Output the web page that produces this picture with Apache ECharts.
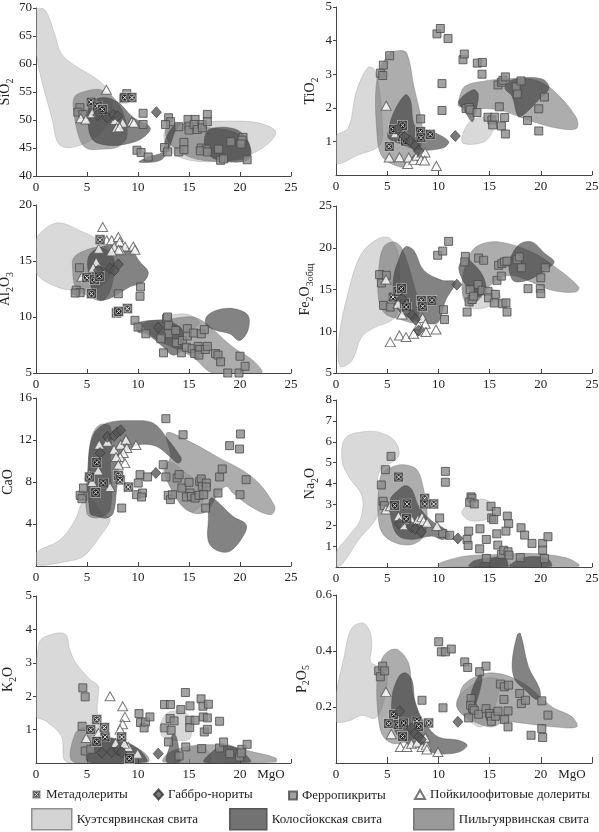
<!DOCTYPE html>
<html>
<head>
<meta charset="utf-8">
<script src="https://cdn.jsdelivr.net/npm/echarts@6/dist/echarts.min.js"></script>
<style>html,body{margin:0;padding:0;background:#fff}#chart{width:599px;height:832px}</style>
</head>
<body>
<div id="chart"></div>
<script>
// ---- data: [MgO, oxide] ----
// SiO2
var siMeta = [[5.4,53.2],[6.0,52.5],[6.5,51.9],[8.7,54.0],[9.4,54.0]];
var siGab = [[6.05,50.9],[7.0,50.4],[7.6,50.9],[8.0,50.7],[11.8,51.4]];
var siPoik = [[6.9,55.4],[4.4,50.3],[4.9,50.1],[5.5,51.2],[7.75,50.0],[7.9,48.6],[8.5,49.5],[8.2,48.7],[9.4,49.7],[9.6,49.5]];
var siFerro = [[4.3,52.2],[4.1,51.4],[4.6,51.0],[8.9,54.7],[8.6,53.8],[10.5,51.2],[10.5,49.2],[9.9,44.6],[10.3,44.2],[11.0,43.4],[13.0,50.4],[13.2,49.7],[12.7,49.2],[14.0,48.8],[12.6,45.1],[12.9,44.3],[14.0,44.3],[14.5,46.0],[14.5,44.7],[14.9,50.1],[15.0,48.9],[15.0,48.2],[15.6,50.1],[15.5,49.2],[15.8,48.3],[16.3,49.2],[16.3,48.6],[16.8,51.0],[16.8,49.7],[16.2,45.0],[16.7,44.8],[16.1,44.5],[16.8,44.3],[17.9,44.8],[18.1,42.8],[18.4,43.05],[19.1,46.1],[20.3,46.9],[20.2,46.4],[20.1,45.7],[20.7,42.9]];
var siKuet = [
  [[0,70],[0.9,69.6],[1.8,65.5],[2.5,61.8],[4,59.5],[5.8,57.5],[7,55.5],[7.5,53],[6.5,48],[4,45.3],[2.3,45.6],[1.6,50],[0,62]],
  [[12.8,48.4],[15,49.4],[19,49.8],[22,49.4],[23.5,47.8],[22.2,45],[19.5,43],[16,42.6],[13.6,43.8],[12.6,46.3]]
];
var siPilg = [
  [[3.8,54.2],[5,55.2],[6.3,55.4],[7.6,54],[8.6,51],[8.9,47],[8,45.2],[6.5,44.8],[5,44.9],[4.3,46.5],[3.7,51.5]],
  [[12.9,49],[14.6,49.3],[16.5,48.7],[19,48.1],[20.6,46.5],[21,43.6],[19,42.7],[16,42.9],[14,44.4],[12.8,46.8]]
];
var siKolos = [
  [[5.3,52.9],[6.5,54],[8,53.2],[9.5,50.5],[11.2,48.6],[10.3,46.6],[8.5,45.6],[7,45.5],[5.6,46.4],[5.1,49.3]],
  [[10.1,42.5],[12.2,42.8],[13.0,44.8],[13.6,47.8],[14.1,49.4],[13.4,48.8],[12.7,46.6],[12.4,44.3],[11,43.4]],
  [[17,48.3],[19.5,48.4],[20.8,46.2],[20.9,43.1],[19,42.5],[17.2,43.4],[16.5,46]]
];
// TiO2
var tiMeta = [[5.2,0.85],[5.6,1.36],[6.5,1.48],[6.45,1.14],[6.8,1.01],[8.25,1.29],[8.3,1.11],[9.2,1.21]];
var tiGab = [[6.05,1.36],[6.7,1.14],[7.25,1.01],[7.7,0.87],[8.05,0.72],[11.65,1.16]];
var tiPoik = [[4.9,2.06],[5.2,0.52],[6.2,0.53],[7.0,0.33],[7.1,0.52],[7.6,0.45],[7.9,0.57],[8.4,0.67],[8.7,0.67],[8.3,0.45],[8.65,0.43],[9.8,0.27],[5.8,1.24]];
var tiFerro = [[4.33,3.03],[4.56,2.96],[4.62,3.27],[5.24,3.55],[8.27,1.67],[9.86,4.2],[10.19,4.36],[10.94,4.06],[10.35,2.72],[10.35,1.92],[12.4,3.43],[12.53,3.6],[13.8,3.33],[14.3,3.35],[14.26,3.0],[12.7,1.98],[13.0,2.01],[13.1,1.94],[13.77,1.86],[14.84,1.72],[15.23,1.64],[15.3,1.49],[15.5,1.72],[16.15,1.46],[16.54,1.22],[16.47,1.71],[15.95,2.03],[15.82,2.68],[16.15,2.76],[16.3,2.82],[16.54,2.92],[17.6,2.62],[17.7,2.41],[18.07,2.8],[18.7,1.62],[19.8,1.97],[19.8,1.31],[20.35,2.32]];
var tiKuet = [
  [[0,0.35],[0,1.15],[1.2,1.4],[2.0,2.5],[3.1,3.2],[3.7,3.15],[4.2,2.6],[4.5,1.6],[4.3,0.9],[2.2,0.6]],
  [[12.3,1.14],[13.3,1.64],[15.6,1.66],[15.2,1.24],[14.4,0.98],[12.5,0.93]]
];
var tiPilg = [
  [[4.0,2.84],[5.1,3.58],[6.1,3.7],[6.9,3.63],[7.6,2.64],[8.4,1.44],[8.1,0.65],[7.1,0.28],[6.1,0.25],[4.5,0.55],[4.0,1.24]],
  [[12.0,2.24],[12.6,2.64],[14.6,2.8],[16.5,2.86],[19.1,2.85],[21.1,2.55],[23.4,1.74],[23.5,1.39],[21.7,1.39],[19.1,1.6],[15.9,1.94],[13.3,1.99],[12.0,2.05]]
];
var tiKolos = [
  [[5.14,1.34],[5.6,1.84],[6.77,2.39],[7.26,2.24],[7.75,1.44],[9.4,1.29],[11.0,1.0],[10.4,0.8],[8.07,0.75],[6.1,0.95],[5.1,1.1]],
  [[12.0,2.19],[13.4,2.54],[13.9,2.39],[13.6,1.84],[13.3,1.59],[12.6,1.89]],
  [[16.5,2.59],[17.3,2.84],[20.1,2.86],[20.8,2.59],[19.8,2.24],[18.5,1.84],[17.8,1.74],[17.2,2.34]]
];
// Al2O3
var alMeta = [[6.28,16.9],[4.98,13.5],[5.73,13.33],[6.2,13.63],[5.44,12.08],[7.9,10.36],[8.95,10.75],[8.1,10.5]];
var alGab = [[6.12,14.17],[7.26,14.32],[7.68,14.17],[8.07,14.7],[11.98,9.05]];
var alPoik = [[6.54,18.04],[6.15,16.1],[6.93,16.85],[7.42,16.85],[8.07,17.14],[8.2,16.7],[7.68,16.25],[8.72,16.3],[8.3,15.95],[9.54,16.3],[9.7,16.0],[5.9,14.9],[4.5,13.6],[8.1,16.0],[7.4,15.86],[5.6,14.4]];
var alFerro = [[4.26,14.4],[3.94,12.4],[4.33,12.17],[3.84,12.14],[8.07,12.08],[10.25,12.68],[10.2,11.85],[9.7,9.7],[10.0,9.1],[10.77,8.5],[12.8,9.85],[12.9,10.0],[13.0,9.26],[12.97,8.5],[12.3,8.2],[12.24,8.06],[12.5,6.8],[13.7,8.8],[13.77,7.7],[14.26,6.8],[14.36,7.9],[14.84,8.96],[14.84,8.3],[15.46,8.57],[14.75,7.3],[15.3,7.17],[15.56,6.73],[15.9,7.38],[16.05,7.1],[15.98,6.6],[16.2,8.5],[16.5,8.87],[16.6,7.1],[16.8,7.38],[17.6,6.73],[17.85,6.6],[18.1,6.0],[18.8,5.0],[20.0,6.5],[19.9,5.0],[20.5,5.6]];
var alKuet = [
  [[0,16.85],[1.07,18.0],[2.38,18.4],[4.33,17.7],[6.3,16.8],[7.3,15.9],[7.6,14.4],[6.3,12.7],[4,12.4],[2,12.7],[0,14.0]],
  [[12.5,9.8],[13.5,10.2],[15,10.2],[16,9.5],[15,8.8],[13.5,9.0]]
];
var alPilg = [
  [[3.7,15.3],[5,16],[6.3,16.2],[7.5,15.5],[7.6,13.5],[6.6,11.5],[4.65,12.1],[3.84,12.7],[3.6,14.2]],
  [[10.5,9.4],[13.4,9.85],[15.4,10.0],[16.7,9.4],[19.3,7.3],[21.3,6.1],[22.1,5.0],[17.35,5.0],[15.4,6.4],[13.4,7.3],[11.5,8.2]]
];
var alKolos = [
  [[5.14,15.35],[5.96,16.1],[7.58,16.4],[9.2,16.1],[10.2,14.9],[11.0,14.0],[10.5,13.1],[9.2,12.7],[7.58,11.8],[6.28,11.5],[5.63,12.1],[5.14,13.9]],
  [[9.86,9.4],[11.8,9.7],[13.4,9.46],[14.36,8.8],[14.26,7.0],[13.4,6.6],[12.5,7.3],[10.84,8.5],[10.0,8.66]],
  [[16.7,10.0],[17.7,10.6],[19.3,10.75],[20.77,10.15],[20.77,8.8],[19.95,7.9],[19.0,8.5],[17.7,8.8],[16.7,9.26]]
];
// Fe2O3 total
var feMeta = [[5.57,14.1],[6.05,14.78],[6.38,15.1],[6.7,13.3],[6.87,12.9],[8.33,13.7],[8.46,13.0],[9.37,13.7]];
var feGab = [[6.45,13.9],[7.42,11.9],[7.75,11.4],[8.07,10.1],[11.8,15.58]];
var fePoik = [[4.88,16.2],[6.05,13.3],[6.45,12.0],[5.3,8.7],[6.19,9.5],[6.84,9.3],[7.58,9.7],[8.07,10.7],[8.46,11.6],[8.72,10.9],[8.4,10.1],[8.78,9.9],[9.77,10.2]];
var feFerro = [[4.26,16.78],[4.43,15.78],[4.92,16.7],[4.65,13.1],[5.3,12.9],[9.93,19.1],[10.42,19.6],[11.0,20.77],[10.5,12.58],[10.6,11.4],[12.63,18.97],[12.57,18.3],[13.93,18.77],[14.42,18.5],[13.87,15.6],[13.1,14.98],[13.0,13.5],[13.3,13.8],[12.8,12.3],[13.44,14.2],[14.26,14.9],[14.84,14.78],[14.9,14.0],[15.56,14.42],[15.46,13.38],[15.72,16.1],[15.88,17.9],[16.2,18.1],[16.44,18.3],[16.7,18.4],[16.15,16.6],[16.28,13.3],[16.6,13.4],[16.7,12.3],[17.68,18.57],[17.9,18.9],[18.1,17.6],[18.75,15.1],[19.95,15.1],[20.0,14.5],[20.0,16.4],[20.44,17.6]];
var feKuet = [
  [[0.42,5.8],[0.26,8.9],[1.24,14.9],[2.5,19.3],[4.17,21.1],[5.3,21.1],[6.1,18.9],[5.96,12.1],[5.14,11.1],[3.84,10.5],[2.5,9.3],[1.56,6.5]],
  [[12.4,14.0],[12.6,15.5],[14,15.3],[15.8,14.8],[16,13.8],[14.5,12.8],[13.2,12.8]]
];
var fePilg = [
  [[4.17,17.3],[4.65,20.1],[5.63,20.7],[6.45,19.9],[7.5,16],[8.07,12.9],[7.75,11.1],[6.1,11.5],[4.8,12.1],[4.17,13.7]],
  [[12.3,15.3],[12.95,18.9],[13.93,20.3],[15.9,20.7],[19.1,19.5],[21.4,17.7],[23.7,15.3],[23.4,14.7],[21.1,14.9],[19.1,15.9],[17.2,16.7],[15.9,16.3],[14.9,15.3],[13.9,13.7],[12.95,13.1]]
];
var feKolos = [
  [[5.63,16.5],[6.1,18.5],[6.77,20.1],[7.58,19.7],[8.56,17.3],[10.35,16.1],[11.65,15.9],[10.7,13.7],[10.0,11.1],[9.05,10.9],[7.42,11.5],[6.1,12.5],[5.63,14.1]],
  [[12.0,17.7],[12.6,18.7],[13.4,18.1],[14.4,16.5],[14.6,14.9],[13.9,14.1],[12.95,15.1],[12.3,16.3]],
  [[16.9,18.1],[17.8,20.3],[19.1,20.7],[20.4,19.3],[21.3,18.3],[20.44,17.3],[19.1,16.3],[17.8,15.9],[17.2,16.2]]
];
// CaO
var caMeta = [[5.96,9.87],[5.24,8.48],[6.6,7.9],[5.86,7.0],[8.07,8.63],[8.24,8.2],[9.05,7.52]];
var caGab = [[6.28,10.76],[7.0,12.3],[7.65,12.4],[7.98,12.73],[8.3,12.92],[11.75,8.86]];
var caPoik = [[6.2,11.56],[7.0,11.84],[7.65,11.08],[8.3,11.56],[8.82,12.03],[8.9,11.24],[8.56,10.76],[8.24,10.38],[8.72,9.8],[9.8,11.52],[5.24,8.7],[6.1,9.1],[7.26,7.52],[7.85,10.38],[8.07,9.65],[5.5,8.0]];
var caFerro = [[4.6,6.63],[4.33,6.73],[4.5,6.41],[4.65,7.43],[8.4,5.52],[9.86,6.79],[10.2,8.7],[10.02,7.9],[10.45,6.95],[10.35,6.57],[10.94,8.48],[12.47,9.65],[12.73,14.03],[12.73,8.48],[12.96,6.73],[13.18,6.32],[13.38,6.79],[13.83,8.38],[14.03,8.7],[14.42,12.5],[14.3,7.43],[15.0,7.97],[15.1,6.95],[14.75,6.57],[15.23,6.63],[15.6,6.47],[15.98,6.73],[16.05,8.06],[16.2,8.29],[16.3,7.59],[16.7,7.9],[16.7,7.52],[16.44,6.79],[16.63,5.52],[17.84,6.95],[18.0,8.48],[18.26,9.24],[18.98,11.46],[20.05,12.57],[19.95,11.14],[20.0,6.79],[20.6,8.22]];
var caKuet = [
  [[0,0.13],[0,1.24],[2.38,2.5],[3.84,4.4],[4.5,6.0],[5.2,6.5],[6.5,5],[7.26,4.4],[6.28,2.83],[4.65,0.92],[3.03,0.44]],
  [[12.4,9.6],[13.2,9.9],[14.5,9],[16,7.8],[16.5,6.5],[15.5,5.2],[14.5,5.5],[13.5,7],[12.6,8.8]]
];
var caPilg = [
  [[4.98,5.05],[5.1,9.5],[5.47,12.35],[6.28,13.46],[7.3,13.2],[7.3,9.8],[7.26,5.37],[5.96,4.57]],
  [[12.8,12.67],[14.75,12.0],[17.7,10.44],[21.3,8.38],[23.4,5.68],[23.05,4.9],[21.3,5.52],[19.3,6.95],[18.65,7.59],[17.7,6.63],[16.7,5.2],[15.4,5.05],[14.1,6.0],[12.96,7.9],[12.63,9.17],[13.2,10.5]]
];
var caKolos = [
  [[5.3,5.05],[5.14,9.8],[5.63,12.5],[6.93,13.6],[9.54,13.84],[11.5,13.6],[12.96,12.03],[13.93,10.76],[14.26,10.13],[13.93,9.8],[13.1,10.44],[11.8,11.4],[10.2,11.56],[8.9,10.92],[8.24,9.8],[7.9,7.27],[7.58,5.05],[6.93,4.57],[5.96,4.73]],
  [[17.0,6.3],[17.35,6.48],[19.3,4.73],[20.6,3.94],[20.3,2.83],[19.0,1.4],[17.7,1.5],[16.9,2.35],[16.9,4.4]]
];
// Na2O
var naMeta = [[6.12,4.31],[5.73,2.94],[6.93,3.02],[8.66,3.29],[8.66,3.02],[9.54,3.02],[6.87,2.31]];
var naGab = [[6.19,2.07],[7.36,1.91],[7.75,1.83],[8.33,1.69],[11.9,1.37]];
var naPoik = [[4.88,2.75],[5.3,2.91],[6.1,2.43],[7.42,2.24],[8.0,2.27],[8.4,2.4],[8.56,2.2],[8.9,2.12],[9.86,1.96],[6.6,2.0]];
var naFerro = [[5.37,5.3],[4.82,4.66],[4.43,3.93],[4.6,3.15],[4.72,2.94],[10.68,4.58],[10.68,4.06],[10.12,2.35],[10.42,1.61],[11.1,1.52],[13.18,3.36],[13.28,3.3],[13.05,3.1],[13.5,3.02],[12.96,1.72],[12.8,1.32],[12.9,1.03],[14.06,1.83],[14.03,0.87],[14.68,1.32],[14.68,0.41],[15.14,2.91],[15.2,2.35],[15.66,2.66],[15.4,2.27],[15.7,1.59],[15.8,1.05],[16.15,0.6],[16.38,0.8],[16.73,2.44],[16.86,2.08],[16.6,1.72],[16.8,0.73],[16.9,0.57],[18.07,1.88],[18.42,1.53],[18.0,0.45],[19.14,1.13],[20.18,1.13],[20.18,0.81],[20.35,0.4],[20.7,1.45]];
var naKuet = [
  [[0,0.05],[0,0.68],[1.24,1.48],[2.38,2.27],[2.54,3.39],[1.24,4.34],[0.6,5.06],[0.9,6.17],[2.86,6.49],[4.5,6.41],[5.8,6.0],[6.1,5.3],[4.17,4.5],[4.17,2.59],[2.2,1.3],[0.6,0.13]],
  [[12.3,2.67],[13.28,3.15],[14.58,3.23],[15.2,2.91],[14.9,2.35],[13.28,2.2],[12.47,2.43]],
  [[14,0.03],[14.5,0.35],[16,0.5],[17,0.2],[17,0.03]]
];
var naPilg = [
  [[4.5,4.5],[5.47,4.79],[6.6,4.9],[7.9,4.66],[8.56,3.7],[8.9,2.59],[8.56,1.48],[7.42,1.08],[5.8,1.16],[4.5,1.64],[4.1,2.59],[4.17,3.7]],
  [[10.0,0.03],[10.2,0.2],[12.6,0.52],[15.9,0.6],[19.1,0.65],[22.4,0.45],[23.7,0.13],[23.7,0.03]]
];
var naKolos = [
  [[5.3,3.23],[6.12,3.7],[6.77,3.9],[7.42,3.7],[8.07,2.91],[9.37,2.2],[10.68,1.8],[11.17,1.48],[10.35,1.32],[9.37,1.48],[7.42,1.32],[6.12,1.48],[5.47,2.12]],
  [[13,0.03],[13.5,0.3],[15,0.42],[16.5,0.45],[16.8,0.1],[16.8,0.03]],
  [[17,0.03],[18,0.4],[19.5,0.5],[20.8,0.35],[21,0.03]]
];
// K2O
var kMeta = [[5.96,1.3],[5.37,1.0],[6.7,1.06],[6.77,0.78],[5.96,0.64],[8.4,0.78],[9.15,0.13]];
var kGab = [[6.45,0.31],[7.42,0.33],[8.07,0.38],[8.4,0.32],[11.98,0.28]];
var kPoik = [[7.26,2.0],[8.5,1.7],[8.72,1.38],[8.5,1.16],[8.24,1.0],[4.92,0.75],[6.12,0.9],[9.96,0.28],[9.05,0.48],[8.66,0.58],[7.8,0.6]];
var kFerro = [[4.59,2.25],[4.82,1.98],[4.52,1.1],[4.82,0.36],[5.37,0.41],[10.1,1.48],[10.25,1.21],[10.6,1.05],[10.74,1.23],[11.17,1.38],[12.6,1.75],[13.18,1.75],[12.63,1.05],[12.99,0.63],[13.15,1.33],[13.25,0.98],[13.54,1.26],[14.2,1.6],[14.03,0.21],[14.65,2.11],[14.68,0.48],[15.1,1.71],[15.07,1.28],[15.07,1.06],[15.6,1.28],[16.18,1.92],[16.37,1.7],[16.4,1.38],[16.24,0.43],[16.5,0.93],[16.8,1.35],[16.8,1.01],[16.9,1.76],[18.0,1.25],[18.0,0.45],[18.39,0.63],[19.0,0.28],[19.95,0.18],[20.18,0.41],[20.7,0.56],[20.12,0.3]];
var kKuet = [
  [[0,1.4],[0,1.75],[0.3,3.6],[1.5,3.85],[2.9,3.85],[3.3,3.4],[3.9,3.0],[5.3,2.5],[6.1,2.3],[6.0,1.6],[6.5,0.9],[8.5,0.5],[8.3,0.03],[3,0.03],[2.5,0.8],[1,1.25]],
  [[12.14,1.08],[12.8,1.48],[13.77,1.56],[14.75,1.48],[15.2,1.18],[15.07,0.73],[13.77,0.68],[12.47,0.78]],
  [[14,0.03],[15,0.4],[16,0.5],[17,0.3],[17,0.03]]
];
var kPilg = [
  [[3.84,0.88],[4.98,1.08],[6.2,0.95],[7.26,0.78],[8.9,0.58],[10.2,0.4],[11.0,0.18],[11.0,0.03],[3.68,0.03]],
  [[12.5,0.03],[13,0.3],[15,0.5],[17,0.55],[19,0.5],[21,0.35],[23.5,0.15],[23.5,0.03]]
];
var kKolos = [
  [[5.14,0.48],[5.96,0.68],[7.58,0.73],[9.2,0.58],[10.2,0.38],[10.84,0.13],[10.84,0.03],[5.14,0.03]],
  [[12.8,0.03],[13.1,0.5],[13.44,0.88],[13.77,0.78],[14.1,0.18],[14.1,0.03]],
  [[16.5,0.03],[17.5,0.4],[18.5,0.55],[20,0.4],[21,0.1],[21,0.03]]
];
// P2O5
var pMeta = [[5.63,0.174],[5.14,0.141],[6.05,0.137],[6.6,0.143],[6.5,0.095],[7.9,0.15],[8.07,0.131],[9.05,0.143]];
var pGab = [[6.22,0.185],[7.36,0.123],[7.68,0.105],[8.07,0.093],[8.33,0.084],[11.9,0.147]];
var pPoik = [[4.88,0.254],[5.4,0.103],[6.28,0.057],[6.93,0.057],[7.36,0.069],[7.94,0.073],[8.4,0.057],[8.82,0.063],[8.88,0.048],[8.72,0.091],[9.96,0.039]];
var pFerro = [[4.17,0.329],[4.33,0.308],[4.56,0.346],[4.75,0.329],[8.4,0.224],[10.03,0.433],[10.29,0.397],[10.68,0.397],[11.26,0.407],[10.45,0.197],[12.57,0.361],[12.86,0.341],[14.03,0.326],[14.65,0.346],[13.2,0.23],[13.15,0.206],[13.35,0.194],[13.5,0.188],[13.93,0.174],[12.95,0.161],[14.65,0.194],[14.97,0.177],[15.07,0.167],[15.17,0.149],[15.56,0.167],[15.82,0.185],[16.05,0.282],[16.44,0.272],[16.4,0.227],[16.47,0.155],[16.8,0.186],[16.8,0.129],[16.86,0.278],[17.94,0.248],[18.1,0.212],[18.5,0.224],[19.05,0.099],[20.1,0.222],[20.1,0.123],[20.18,0.091],[20.7,0.171]];
var pKuet = [
  [[0,0.15],[0,0.24],[0.8,0.38],[1.5,0.48],[2.6,0.5],[3.3,0.47],[3.5,0.42],[3.4,0.36],[4.5,0.34],[5,0.3],[4.5,0.2],[3.8,0.16],[2.5,0.17],[1.2,0.15]],
  [[11.8,0.224],[12.6,0.26],[14.6,0.302],[15.9,0.296],[15.7,0.224],[14.9,0.153],[14.1,0.129],[12.95,0.153],[12.0,0.188]]
];
var pPilg = [
  [[4.0,0.296],[4.5,0.373],[5.3,0.403],[6.12,0.403],[7.1,0.355],[7.42,0.26],[8.07,0.177],[8.3,0.12],[7.75,0.093],[5.8,0.069],[4.65,0.093],[4.17,0.153]],
  [[12.0,0.236],[12.6,0.284],[14.6,0.32],[16.5,0.314],[18.5,0.28],[21.1,0.2],[23.05,0.165],[23.5,0.129],[21,0.13],[18.5,0.141],[16.5,0.147],[15.2,0.129],[13.9,0.141],[12.6,0.165],[11.8,0.2]]
];
var pKolos = [
  [[5.47,0.236],[6.12,0.308],[6.77,0.322],[7.42,0.296],[7.75,0.212],[8.72,0.141],[10.0,0.093],[11.98,0.081],[12.8,0.063],[12.0,0.039],[10.0,0.033],[8.4,0.051],[6.45,0.081],[5.63,0.129]],
  [[12.95,0.183],[13.28,0.26],[14.1,0.32],[14.26,0.296],[13.77,0.224],[13.28,0.177]],
  [[17.2,0.355],[17.7,0.457],[18.0,0.463],[18.8,0.343],[19.8,0.272],[19.95,0.236],[19.5,0.227],[18.5,0.26],[17.5,0.296]]
];

var SERIF = 'Liberation Serif';
var NAMES = {
  meta: 'Метадолериты', gab: 'Габбро-нориты', ferro: 'Ферропикриты', poik: 'Пойкилоофитовые долериты',
  kuet: 'Куэтсярвинская свита', kolos: 'Колосйокская свита', pilg: 'Пильгуярвинская свита'
};

var metaSvg = "<svg xmlns='http://www.w3.org/2000/svg' width='22' height='22' viewBox='0 0 22 22'>" +
  "<rect x='1' y='1' width='20' height='20' fill='#3a3a3a' stroke='#d8d8d8' stroke-width='1.4'/>" +
  "<circle cx='11' cy='11' r='7' fill='#141414' stroke='#cfcfcf' stroke-width='1.3'/>" +
  "<path d='M7.3 7.3L14.7 14.7M14.7 7.3L7.3 14.7' stroke='#fff' stroke-width='1.9'/></svg>";
var META_ICON = 'image://data:image/svg+xml;charset=utf-8,' + encodeURIComponent(metaSvg);

var FIELD_STYLE = {
  kuet: { fill: 'rgba(170,170,170,0.45)', stroke: 'rgba(150,150,150,0.6)' },
  pilg: { fill: 'rgba(105,105,105,0.55)', stroke: 'rgba(110,110,110,0.7)' },
  kolos: { fill: 'rgba(55,55,55,0.62)', stroke: 'rgba(70,70,70,0.7)' }
};
var POINT_STYLE = {
  ferro: { symbol: 'rect', symbolSize: 8, itemStyle: { color: '#8b8b8b', borderColor: '#4a4a4a', borderWidth: 1 } },
  poik: { symbol: 'triangle', symbolSize: [10, 9], itemStyle: { color: '#fff', borderColor: '#555', borderWidth: 1 } },
  meta: { symbol: META_ICON, symbolSize: 11 },
  gab: { symbol: 'diamond', symbolSize: [10, 11], itemStyle: { color: '#585858', borderColor: '#333', borderWidth: 0.8 } }
};

function rich() {
  return {
    n: { fontFamily: SERIF, fontSize: 14, color: '#222', lineHeight: 20, verticalAlign: 'middle' },
    s: { fontFamily: SERIF, fontSize: 10, color: '#222', lineHeight: 20, verticalAlign: 'bottom' }
  };
}

var panels = [
  { name: '{n|SiO}{s|2}', min: 40, max: 70, step: 5, minLabel: true, grid: { left: 36, top: 8, width: 255, height: 168 },
    meta: siMeta, gab: siGab, poik: siPoik, ferro: siFerro, kuet: siKuet, pilg: siPilg, kolos: siKolos },
  { name: '{n|TiO}{s|2}', min: 0, max: 5, step: 1, minLabel: false, grid: { left: 336, top: 7, width: 256, height: 168 },
    meta: tiMeta, gab: tiGab, poik: tiPoik, ferro: tiFerro, kuet: tiKuet, pilg: tiPilg, kolos: tiKolos },
  { name: '{n|Al}{s|2}{n|O}{s|3}', min: 5, max: 20, step: 5, minLabel: true, grid: { left: 36, top: 205, width: 255, height: 168 },
    meta: alMeta, gab: alGab, poik: alPoik, ferro: alFerro, kuet: alKuet, pilg: alPilg, kolos: alKolos },
  { name: '{n|Fe}{s|2}{n|O}{s|3общ}', min: 5, max: 25, step: 5, minLabel: true, grid: { left: 336, top: 206, width: 256, height: 167 },
    meta: feMeta, gab: feGab, poik: fePoik, ferro: feFerro, kuet: feKuet, pilg: fePilg, kolos: feKolos },
  { name: '{n|CaO}', min: 0, max: 16, step: 4, minLabel: false, grid: { left: 36, top: 398, width: 255, height: 168 },
    meta: caMeta, gab: caGab, poik: caPoik, ferro: caFerro, kuet: caKuet, pilg: caPilg, kolos: caKolos },
  { name: '{n|Na}{s|2}{n|O}', min: 0, max: 8, step: 1, minLabel: false, grid: { left: 336, top: 400, width: 256, height: 167 },
    meta: naMeta, gab: naGab, poik: naPoik, ferro: naFerro, kuet: naKuet, pilg: naPilg, kolos: naKolos },
  { name: '{n|K}{s|2}{n|O}', min: 0, max: 5, step: 1, minLabel: false, grid: { left: 36, top: 596, width: 255, height: 167 },
    meta: kMeta, gab: kGab, poik: kPoik, ferro: kFerro, kuet: kKuet, pilg: kPilg, kolos: kKolos },
  { name: '{n|P}{s|2}{n|O}{s|5}', min: 0, max: 0.6, step: 0.2, minLabel: false, grid: { left: 336, top: 595, width: 256, height: 168 },
    meta: pMeta, gab: pGab, poik: pPoik, ferro: pFerro, kuet: pKuet, pilg: pPilg, kolos: pKolos }
];

function fieldSeries(key, polys, gi) {
  var st = FIELD_STYLE[key];
  return {
    type: 'custom', name: NAMES[key], xAxisIndex: gi, yAxisIndex: gi, silent: true, clip: true, z: 1,
    data: polys.map(function (p) { return p[0]; }),
    renderItem: function (params, api) {
      var pts = polys[params.dataIndex].map(function (p) { return api.coord(p); });
      return { type: 'polygon', shape: { points: pts, smooth: 0.35 }, style: { fill: st.fill, stroke: st.stroke, lineWidth: 0.6 } };
    }
  };
}

function pointSeries(key, data, gi) {
  var st = POINT_STYLE[key];
  var s = { type: 'scatter', name: NAMES[key], xAxisIndex: gi, yAxisIndex: gi, data: data, z: 3, silent: true };
  for (var k in st) s[k] = st[k];
  return s;
}

var grids = [], xAxes = [], yAxes = [], series = [];

panels.forEach(function (p, i) {
  var bottom = i >= 6;
  var right = i % 2 === 1;
  var g = p.grid; g.outerBoundsMode = 'none';
  grids.push(g);
  xAxes.push({
    gridIndex: i, type: 'value', min: 0, max: 25, interval: 5,
    axisLine: { show: true, onZero: false, lineStyle: { color: '#444', width: 1 } },
    axisTick: { show: true, inside: true, length: bottom && right ? 6 : 4, lineStyle: { color: '#444' } },
    splitLine: { show: false },
    axisLabel: {
      fontFamily: SERIF, fontSize: 13, color: '#222', margin: 5,
      formatter: function (v) { return (bottom && v === 25) ? '{m|MgO}' : String(v); },
      rich: { m: { fontFamily: SERIF, fontSize: 13, color: '#222', padding: [0, 40, 0, 0] } }
    }
  });
  yAxes.push({
    gridIndex: i, type: 'value', min: p.min, max: p.max, interval: p.step,
    name: p.name, nameLocation: 'middle', nameGap: right ? 16 : 18, nameRotate: 90,
    nameTextStyle: { fontFamily: SERIF, fontSize: 14, color: '#222', rich: rich() },
    axisLine: { show: true, onZero: false, lineStyle: { color: '#444', width: 1 } },
    axisTick: { show: true, length: 3, lineStyle: { color: '#444' } },
    splitLine: { show: false },
    axisLabel: {
      fontFamily: SERIF, fontSize: 13, color: '#222', margin: 4, showMinLabel: p.minLabel,
      formatter: function (v) { return p.step < 1 ? v.toFixed(1) : String(v); }
    }
  });
  series.push(fieldSeries('kuet', p.kuet, i));
  series.push(fieldSeries('pilg', p.pilg, i));
  series.push(fieldSeries('kolos', p.kolos, i));
  series.push(pointSeries('ferro', p.ferro, i));
  series.push(pointSeries('poik', p.poik, i));
  series.push(pointSeries('meta', p.meta, i));
  series.push(pointSeries('gab', p.gab, i));
});

var legendText = { fontFamily: SERIF, fontSize: 13, color: '#222' };
function legendOf(key, left, top, w, h, extra) {
  var item = { name: NAMES[key] };
  if (extra) for (var k in extra) item[k] = extra[k];
  return { data: [item], left: left, top: top, itemWidth: w, itemHeight: h, padding: 0, itemGap: 0,
    selectedMode: false, textStyle: legendText };
}
var legends = [
  legendOf('meta', 32, 788, 9, 9),
  legendOf('gab', 153, 788, 9, 10),
  legendOf('ferro', 288, 789, 8, 8),
  legendOf('poik', 414, 788, 10, 9),
  legendOf('kuet', 31, 808, 40, 21, { icon: 'rect', itemStyle: { color: '#d4d4d4', borderColor: '#8f8f8f', borderWidth: 1.5 } }),
  legendOf('kolos', 229, 808, 37, 21, { icon: 'rect', itemStyle: { color: '#727272', borderColor: '#555', borderWidth: 1.5 } }),
  legendOf('pilg', 413, 808, 40, 21, { icon: 'rect', itemStyle: { color: '#9a9a9a', borderColor: '#777', borderWidth: 1.5 } })
];

var chart = echarts.init(document.getElementById('chart'), null, { renderer: 'canvas' });
chart.setOption({
  animation: false,
  backgroundColor: '#fff',
  grid: grids,
  xAxis: xAxes,
  yAxis: yAxes,
  legend: legends,
  series: series
});
</script>
</body>
</html>
